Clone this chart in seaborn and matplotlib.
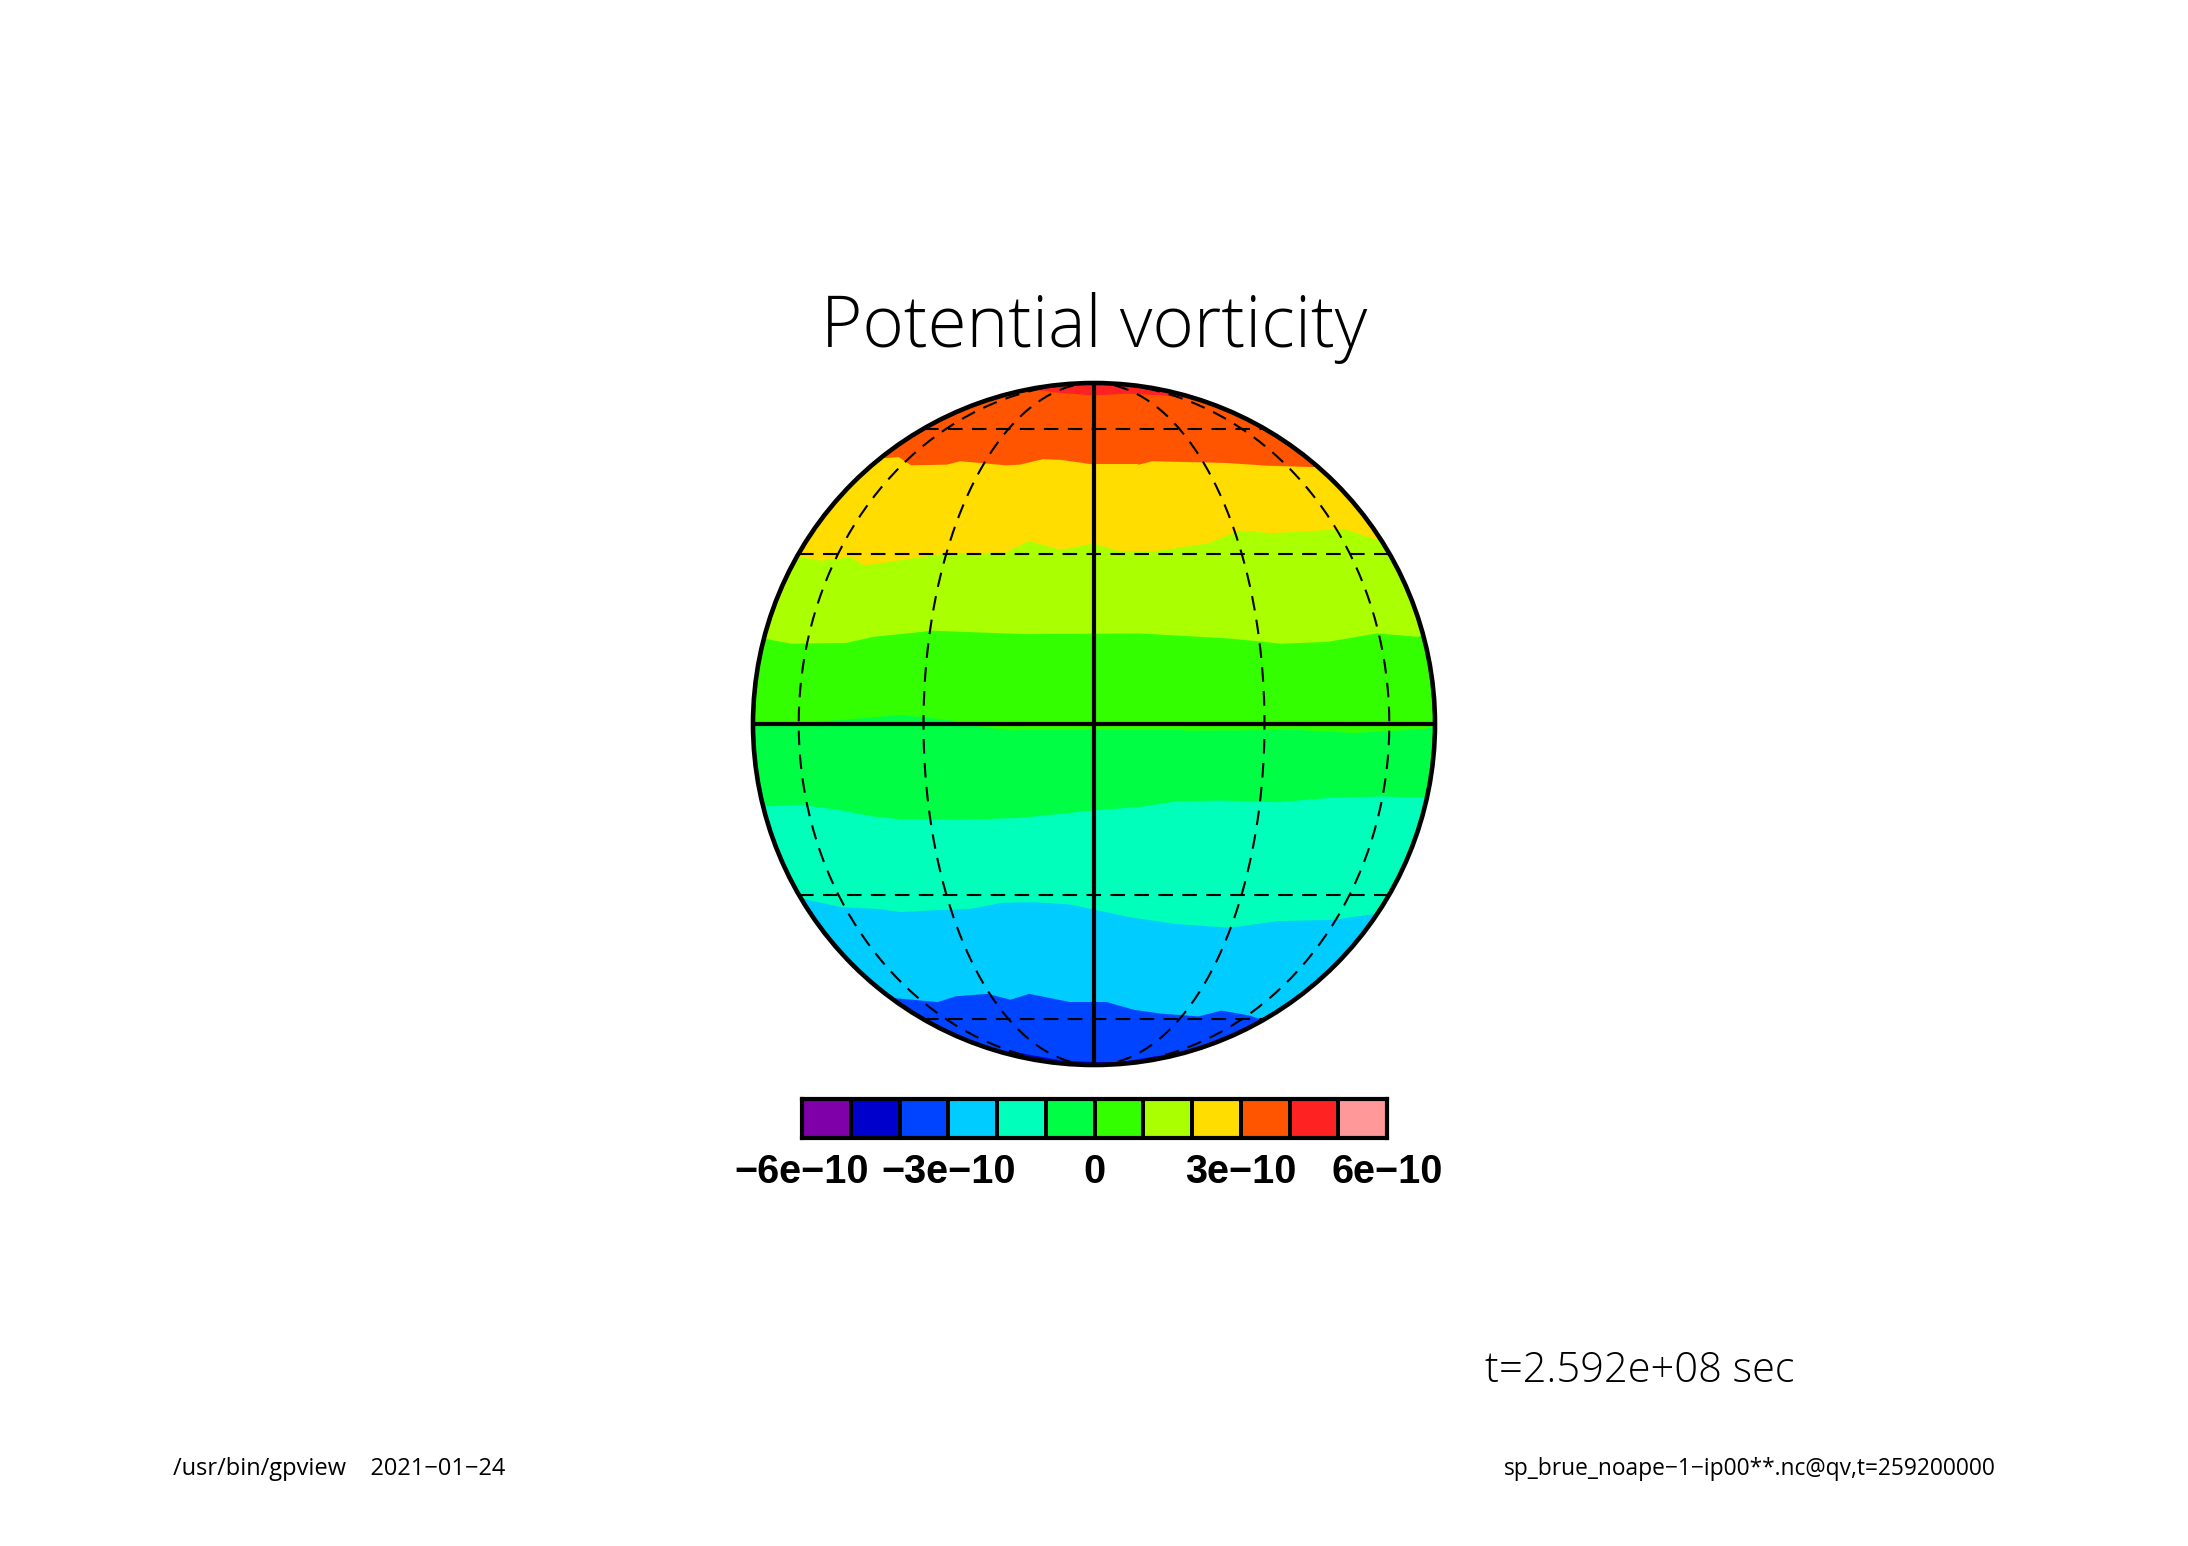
import numpy as np
import matplotlib
matplotlib.use("Agg")
import matplotlib.pyplot as plt
from matplotlib.colors import ListedColormap, BoundaryNorm
from matplotlib.patches import Circle
import seaborn as sns

# Band colours, low to high
band_colors = ["#7f00a8", "#0000cc", "#0044ff", "#00ccff", "#00ffbb", "#00ff44",
               "#33ff00", "#aaff00", "#ffdd00", "#ff5500", "#ff2222", "#ff9999"]
levels = [-6e-10, -5e-10, -4e-10, -3e-10, -2e-10, -1e-10, 0, 1e-10, 2e-10, 3e-10, 4e-10, 5e-10, 6e-10]
tick_levels = [0, 3, 6, 9, 12]
tick_labels = ["\u22126e\u221210", "\u22123e\u221210", "0", "3e\u221210", "6e\u221210"]

# Contour boundaries on the disc (x, y in units of the sphere radius)
red_x = [-1, -.2, -.1, 0, .1, .2, .3, 1]
red_y = [.985, .985, .972, .965, .97, .965, .955, .95]
orange_x = [-1, -.621, -.574, -.538, -.434, -.393, -.259, -.219, -.152, -.098, 0, .130, .170, .385, .506, .640, 1]
orange_y = [.781, .781, .784, .760, .762, .772, .760, .762, .778, .776, .762, .762, .772, .767, .759, .755, .755]
yellow_x = [-1, -.863, -.803, -.715, -.675, -.568, -.434, -.259, -.192, -.098, -.004, .077, .170, .332, .426, .519, .734, .828, 1]
yellow_y = [.492, .492, .480, .490, .466, .482, .502, .504, .538, .512, .531, .507, .507, .531, .569, .561, .573, .541, .541]
lime_x = [-1, -.970, -.890, -.729, -.648, -.474, -.205, .130, .399, .546, .681, .828, .949, 1]
lime_y = [.252, .252, .237, .239, .257, .275, .265, .267, .252, .237, .242, .267, .257, .257]
green_x = [-1, -.756, -.568, -.420, -.326, -.232, .264, .600, .761, .976, 1]
green_y = [0, .012, .028, .012, -.008, -.018, -.018, -.016, -.025, -.013, -.013]
spring_x = [-1, -.957, -.863, -.756, -.648, -.568, -.393, -.219, 0, .130, .238, .372, .533, .694, .842, .989, 1]
spring_y = [-.240, -.240, -.235, -.250, -.270, -.278, -.280, -.274, -.252, -.242, -.226, -.223, -.228, -.215, -.211, -.215, -.215]
aqua_x = [-1, -.856, -.742, -.635, -.568, -.474, -.366, -.272, -.179, -.071, .009, .103, .238, .399, .533, .694, .828, 1]
aqua_y = [-.511, -.511, -.536, -.541, -.550, -.545, -.541, -.523, -.521, -.528, -.545, -.565, -.585, -.596, -.577, -.573, -.555, -.555]
sky_x = [-1, -.581, -.460, -.407, -.313, -.246, -.192, -.071, .036, .117, .197, .305, .372, .452, .493, 1]
sky_y = [-.803, -.803, -.814, -.797, -.790, -.807, -.790, -.814, -.814, -.837, -.848, -.856, -.839, -.853, -.866, -.866]
blue_x = [-1, -.232, -.098, 0, .077, .224, .3, 1]
blue_y = [-.961, -.961, -.985, -.990, -.990, -.966, -.98, -.98]

layers = [(red_x, red_y, "#ff5500"), (orange_x, orange_y, "#ffdd00"), (yellow_x, yellow_y, "#aaff00"),
          (lime_x, lime_y, "#33ff00"), (green_x, green_y, "#00ff44"), (spring_x, spring_y, "#00ffbb"),
          (aqua_x, aqua_y, "#00ccff"), (sky_x, sky_y, "#0044ff"), (blue_x, blue_y, "#0000cc")]

parallels = [-60, -30, 30, 60]
meridians = [-60, -30, 30, 60]

sns.set_theme(style="white")
plt.rcParams["font.family"] = ["Open Sans", "DejaVu Sans"]

W, H = 2188, 1546
fig = plt.figure(figsize=(W / 100, H / 100), dpi=100, facecolor="white")


def px_axes(x0, y0, x1, y1):
    return fig.add_axes([x0 / W, 1 - y1 / H, (x1 - x0) / W, (y1 - y0) / H])


cx, cy, R = 1094, 724, 341
ax = px_axes(cx - R, cy - R, cx + R, cy + R)
ax.set_xlim(-1, 1)
ax.set_ylim(-1, 1)
ax.set_axis_off()
clip = Circle((0, 0), 1, transform=ax.transData)

# Base colour is the top band, each lower band is painted over it
bg = ax.fill_between([-1, 1], -1.1, 1.1, color="#ff2222", lw=0)
bg.set_clip_path(clip)
for bx, by, col in layers:
    p = ax.fill_between(bx, -1.1, by, color=col, lw=0)
    p.set_clip_path(clip)

dash = dict(color="black", lw=1.5, dashes=(7, 4.5), estimator=None, sort=False, legend=False, ax=ax)
for lat in parallels:
    s = np.sin(np.radians(lat))
    c = np.cos(np.radians(lat))
    sns.lineplot(x=[-c, c], y=[s, s], **dash)
phi = np.radians(np.linspace(-90, 90, 181))
for lon in meridians:
    sns.lineplot(x=np.cos(phi) * np.sin(np.radians(lon)), y=np.sin(phi), **dash)

solid = dict(color="black", lw=3, estimator=None, sort=False, legend=False, ax=ax)
sns.lineplot(x=[-1, 1], y=[0, 0], **solid)
sns.lineplot(x=[0, 0], y=[-1, 1], **solid)
ax.add_patch(Circle((0, 0), 1, fill=False, ec="black", lw=3.3, clip_on=False))

# Colour bar
cax = px_axes(802, 1099, 1387, 1138)
cells = np.array([[(levels[i] + levels[i + 1]) / 2 for i in range(len(band_colors))]])
sns.heatmap(cells, ax=cax, cmap=ListedColormap(band_colors),
            norm=BoundaryNorm(levels, len(band_colors)), cbar=False,
            linewidths=2.6, linecolor="black", xticklabels=False, yticklabels=False)
for s in cax.spines.values():
    s.set_visible(True)
    s.set_color("black")
    s.set_linewidth(3)
cax.set_xticks(tick_levels)
cax.set_xticklabels(tick_labels, fontsize=28.5, fontweight="bold", color="black",
                    family=["Liberation Sans", "DejaVu Sans"])
cax.tick_params(axis="x", length=0, pad=11)
cax.set_yticks([])


def txt(x, y, s, **kw):
    fig.text(x / W, 1 - y / H, s, color="black", **kw)


txt(1094, 328, "Potential vorticity", fontsize=51, ha="center", va="center", fontweight="light")
txt(1485, 1371, "t=2.592e+08 sec", fontsize=30, ha="left", va="center", fontweight="light")
txt(173, 1469, "/usr/bin/gpview    2021\u221201\u221224", fontsize=17, ha="left", va="center")
txt(1504, 1469, "sp_brue_noape\u22121\u2212ip00**.nc@qv,t=259200000", fontsize=16.4, ha="left", va="center")

fig.savefig("out.png", dpi=100, facecolor="white")
